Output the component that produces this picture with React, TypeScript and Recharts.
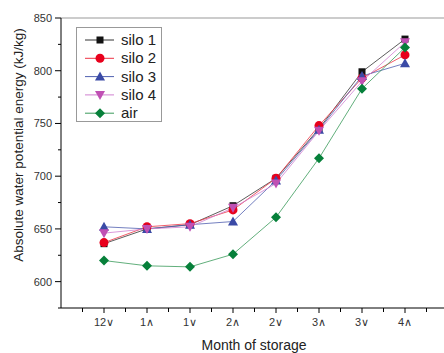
import React from "react";
import { LineChart, Line, XAxis, YAxis, ReferenceLine } from "recharts";

// Month labels (∨ = late, ∧ = early)
const months = ["12∨", "1∧", "1∨", "2∧", "2∨", "3∧", "3∨", "4∧"];

const silo1 = [636, 650, 654, 672, 698, 745, 799, 830];
const silo2 = [637, 652, 655, 668, 698, 748, 793, 815];
const silo3 = [652, 650, 654, 657, 696, 744, 795, 807];
const silo4 = [646, 650, 652, 670, 693, 743, 790, 827];
const air = [620, 615, 614, 626, 661, 717, 783, 822];

const xTicks = [0.5, 1, 1.5, 2, 2.5, 3, 3.5, 4, 4.5, 5, 5.5, 6, 6.5, 7, 7.5, 8, 8.5];
const yTicks = [575, 600, 625, 650, 675, 700, 725, 750, 775, 800, 825, 850];

const FONT = "Arial, 'Liberation Sans', sans-serif";

const series = [
  { key: "silo1", name: "silo 1", values: silo1, line: "#333333", fill: "#111111", shape: "square" },
  { key: "silo2", name: "silo 2", values: silo2, line: "#ee3344", fill: "#e8001c", shape: "circle" },
  { key: "silo3", name: "silo 3", values: silo3, line: "#5060b0", fill: "#3a4aa6", shape: "triangle" },
  { key: "silo4", name: "silo 4", values: silo4, line: "#d080d0", fill: "#c050b4", shape: "down" },
  { key: "air", name: "air", values: air, line: "#3a9a5a", fill: "#06803a", shape: "diamond" },
];

const data = months.map((m, i) => {
  const row: any = { x: i + 1, month: m };
  series.forEach((s) => (row[s.key] = s.values[i]));
  return row;
});

function Marker({ shape, cx, cy, color }: any) {
  if (cx == null || cy == null) return null;
  switch (shape) {
    case "square":
      return <rect x={cx - 3.5} y={cy - 3.5} width={7} height={7} fill={color} />;
    case "circle":
      return <circle cx={cx} cy={cy} r={4.5} fill={color} />;
    case "triangle":
      return <polygon points={`${cx},${cy - 5} ${cx - 5},${cy + 4} ${cx + 5},${cy + 4}`} fill={color} />;
    case "down":
      return <polygon points={`${cx},${cy + 5} ${cx - 5},${cy - 4} ${cx + 5},${cy - 4}`} fill={color} />;
    default:
      return <polygon points={`${cx},${cy - 5} ${cx + 5},${cy} ${cx},${cy + 5} ${cx - 5},${cy}`} fill={color} />;
  }
}

const YTick = ({ x, y, payload }: any) => {
  const major = payload.value % 50 === 0;
  return (
    <g>
      <line x1={x} x2={x - (major ? 6 : 3)} y1={y} y2={y} stroke="#000" />
      {major && (
        <text x={x - 9} y={y} dy={4} textAnchor="end" fontSize={11} fill="#333" fontFamily={FONT}>
          {payload.value}
        </text>
      )}
    </g>
  );
};

const XTick = ({ x, y, payload }: any) => {
  const major = Number.isInteger(payload.value);
  return (
    <g>
      <line x1={x} x2={x} y1={y} y2={y + (major ? 5 : 4)} stroke="#000" />
      {major && (
        <text x={x} y={y + 18} textAnchor="middle" fontSize={11} fill="#333" fontFamily={FONT}>
          {months[payload.value - 1]}
        </text>
      )}
    </g>
  );
};

// legend drawn as an overlay so it does not take space from the plot
const LegendBox = () => (
  <svg width={86} height={95} style={{ position: "absolute", left: 76, top: 27 }}>
    <rect x={0.5} y={0.5} width={85} height={94} fill="#fff" stroke="#999" />
    {series.map((s, i) => {
      const cy = 13 + i * 18.3;
      return (
        <g key={s.key}>
          <line x1={9} x2={38} y1={cy} y2={cy} stroke={s.line} strokeWidth={1} />
          <Marker shape={s.shape} cx={24} cy={cy} color={s.fill} />
          <text x={45} y={cy + 5} fontSize={15} fill="#222" fontFamily={FONT}>
            {s.name}
          </text>
        </g>
      );
    })}
  </svg>
);

export default function App() {
  return (
    <div style={{ position: "absolute", left: 0, top: 0, width: 444, height: 353, overflow: "hidden", background: "#fff" }}>
      <LineChart width={452} height={353} data={data} margin={{ top: 18, right: 4, bottom: 0, left: 0 }}>
        <XAxis
          dataKey="x"
          type="number"
          domain={[0, 9]}
          ticks={xTicks}
          interval={0}
          height={45}
          tickSize={0}
          tickMargin={0}
          tickLine={false}
          tick={<XTick />}
          axisLine={{ stroke: "#000" }}
          label={{
            content: () => (
              <text x={254} y={350} textAnchor="middle" fontSize={14} fill="#222" fontFamily={FONT}>
                Month of storage
              </text>
            ),
          }}
        />
        <YAxis
          type="number"
          domain={[575, 850]}
          ticks={yTicks}
          interval={0}
          width={61}
          tickSize={0}
          tickMargin={0}
          tickLine={false}
          tick={<YTick />}
          axisLine={{ stroke: "#000" }}
          label={{
            content: () => (
              <text x={18} y={145} transform="rotate(-90 18 145)" dy={5} textAnchor="middle" fontSize={13.5} fill="#222" fontFamily={FONT}>
                Absolute water potential energy (kJ/kg)
              </text>
            ),
          }}
        />
        <ReferenceLine y={850} stroke="#999" strokeWidth={1} />
        {series.map((s) => (
          <Line
            key={s.key}
            dataKey={s.key}
            name={s.name}
            stroke={s.line}
            strokeWidth={0.8}
            isAnimationActive={false}
            dot={(p: any) => <Marker key={`${s.key}-${p.index}`} shape={s.shape} cx={p.cx} cy={p.cy} color={s.fill} />}
            activeDot={false}
          />
        ))}
      </LineChart>
      <LegendBox />
    </div>
  );
}
